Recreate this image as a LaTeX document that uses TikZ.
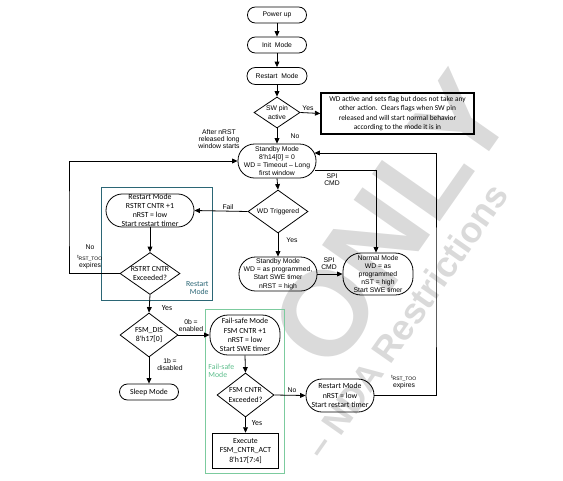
\documentclass[tikz,border=0pt]{standalone}
\usepackage{fontspec}
\setmainfont{Liberation Sans}
\newfontfamily\calib{Carlito}
\usetikzlibrary{arrows.meta,shapes.geometric}
\definecolor{tealfr}{HTML}{2B6675}
\definecolor{greenfr}{HTML}{7CCB9E}
\definecolor{greentx}{HTML}{5DBE8C}
\definecolor{wmgray}{HTML}{DADADA}
\newcommand\arf{\fontsize{6.8}{8.2}\selectfont}
\newcommand\arl{\fontsize{6.8}{7.1}\selectfont}
\newcommand\cbf{\calib\fontsize{7.8}{9.2}\selectfont}
\newcommand\cbs{\calib\fontsize{7.4}{9.2}\selectfont}
\newcommand\cbl{\calib\fontsize{7.8}{8.0}\selectfont}
\newcommand\tsub{{\fontsize{5}{6}\selectfont t\textsubscript{RST\_TOO}}}
\begin{document}
\begin{tikzpicture}[x=1pt,y=-1pt,line width=0.8pt,
  >={Triangle[length=5.5pt,width=4.8pt]},
  stad/.style={draw, rounded corners=#1, align=center, inner sep=0pt},
  dia/.style={draw, diamond, aspect=#1, align=center, inner sep=0pt},
  plainbox/.style={draw, align=center, inner sep=0pt},
  fa/.style={font=\arf, align=center, inner sep=0pt},
  fal/.style={font=\arl, align=center, inner sep=0pt},
  fc/.style={font=\cbf, align=center, inner sep=0pt},
  fcl/.style={font=\cbl, inner sep=0pt},
  wmk/.style={text=wmgray, inner sep=0pt, rotate=55}]
\useasboundingbox (0,0) rectangle (563,480);

% watermark
\node[wmk, font=\bfseries\fontsize{120}{120}\selectfont] (wm1) at (391,220) {ONLY};
\node[wmk, font=\bfseries\fontsize{36}{36}\selectfont] (wm2) at (406,321) {– NDA Restrictions};

% frames
\draw[tealfr, line width=1pt] (101,187) rectangle (212,300);
\draw[greenfr, line width=1pt] (205,309) rectangle (284,473);

% top chain
\node[stad=7.8pt, font=\arf, minimum width=59pt, minimum height=16pt] (pu) at (277,15) {Power up};
\node[stad=7.8pt, font=\arf, minimum width=59pt, minimum height=16pt] (init) at (277,45) {Init\ \ Mode};
\node[stad=8.3pt, font=\arf, minimum width=60pt, minimum height=17pt] (rst0) at (277,76) {Restart\ \ Mode};
\node[dia=1.5, font=\arf, minimum width=46pt, minimum height=31pt] (sw) at (277,112.5) {SW pin\\active};
\node[plainbox, font=\cbs, line width=1.2pt, minimum width=153pt, minimum height=41pt] (swbox) at (397.5,113.5)
  {WD active and sets flag but does not take any\\other action.\ \ Clears flags when SW pin\\released and will start normal behavior\\according to the mode it is in};

% standby
\node[stad=16.5pt, font=\arf, minimum width=78pt, minimum height=34pt] (sb1) at (277,161)
  {Standby Mode\\8'h14[0] = 0\\WD = Timeout \textendash{} Long\\first window};
\node[dia=1.4, font=\arf, minimum width=60pt, minimum height=43pt] (wdt) at (278,211.5) {WD Triggered};
\node[stad=16.5pt, font=\arf, minimum width=78pt, minimum height=34pt] (sb2) at (278,274)
  {Standby Mode\\WD = as programmed,\\Start SWE timer\\nRST = high};
\node[stad=18pt, font=\arf, minimum width=70pt, minimum height=42pt] (nm) at (378,274)
  {Normal Mode\\WD = as\\programmed\\nST = high\\Start SWE timer};

% restart block
\node[stad=16.5pt, font=\cbf, minimum width=88pt, minimum height=33pt] (rs1) at (150,210.5)
  {Restart Mode\\RSTRT CNTR +1\\nRST = low\\Start restart timer};
\node[dia=1.43, font=\cbf, minimum width=60pt, minimum height=42pt] (rsd) at (150,273.5) {RSTRT CNTR\\Exceeded?};
\node[dia=1.32, font=\cbf, minimum width=58pt, minimum height=44pt] (fsm) at (149,335) {FSM\_DIS\\8'h17[0]};
\node[stad=8pt, font=\cbf, minimum width=59pt, minimum height=16pt] (sleep) at (149,392) {Sleep Mode};

% fail-safe block
\node[stad=18pt, font=\cbf, minimum width=70pt, minimum height=40pt] (fs) at (245,335)
  {Fail-safe Mode\\FSM CNTR +1\\nRST = low\\Start SWE timer};
\node[dia=1.3, font=\cbf, minimum width=57pt, minimum height=44pt] (fsc) at (245.5,395) {FSM CNTR\\Exceeded?};
\node[plainbox, font=\cbf, line width=1.5pt, minimum width=66pt, minimum height=35pt] (ex) at (245.5,451)
  {Execute\\FSM\_CNTR\_ACT\\8'h17[7:4]};
\node[stad=16pt, font=\cbf, minimum width=68pt, minimum height=33pt] (rs2) at (340,395.5)
  {Restart Mode\\nRST = low\\Start restart timer};

% labels
\node[fa] (lyes1) at (308,108) {Yes};
\node[fa] (lno1) at (295,136) {No};
\node[fal] (lafter) at (219,139) {After nRST\\released long\\window starts};
\node[fal] (lspi1) at (332,180) {SPI\\CMD};
\node[fa] (lfail) at (228,207) {Fail};
\node[fa] (lyes2) at (292,240) {Yes};
\node[fal] (lspi2) at (329,264) {SPI\\CMD};
\node[fa, font=\fontsize{6.8}{9}\selectfont] (lno2) at (90,257) {No\\\tsub\\expires};
\node[fcl, align=right, anchor=east, text=tealfr] (lrm) at (209,288) {Restart\\Mode};
\node[fc] (lyes3) at (167,308) {Yes};
\node[fal] (l0b) at (191,326) {0b =\\enabled};
\node[fal] (l1b) at (170,365) {1b =\\disabled};
\node[fcl, align=left, anchor=west, text=greentx] (lfs) at (208,371) {Fail-safe\\Mode};
\node[fa] (lno3) at (292,390) {No};
\node[fal] (lexp) at (404,382) {\tsub\\expires};
\node[fc] (lyes4) at (257,423) {Yes};

% connectors
\draw[->] (pu) -- (init);
\draw[->] (init) -- (rst0);
\draw[->] (rst0) -- (sw);
\draw[->] (sw.east) -- (swbox.west);
\draw[->] (sw.south) -- (sb1.north);
\draw[->] (sb1.south) -- (wdt.north);
\draw[->] (wdt.west) -- (rs1.east);
\draw[->] (wdt.south) -- (sb2.north);
\draw[->] (sb2.east) -- (nm.west);
\draw[->] ([yshift=-9pt,xshift=-1pt]sb1.east) -| ([xshift=-2pt]nm.north);
\coordinate (rt) at (436,300);
\draw[->] (rs2.east) -| (rt) |- ([yshift=8pt,xshift=-2pt]sb1.east);
\coordinate (lt) at (69,220);
\draw[->] (rsd.west) -| (lt) |- (sb1.west);
\draw[->] (rs1.south) -- (rsd.north);
\draw[->] (rsd.south) -- (fsm.north);
\draw[->] (fsm.east) -- (fs.west);
\draw[->] (fsm.south) -- (sleep.north);
\draw[->] (fs.south) -- (fsc.north);
\draw[->] (fsc.east) -- (rs2.west);
\draw[->] (fsc.south) -- (ex.north);
\end{tikzpicture}
\end{document}
